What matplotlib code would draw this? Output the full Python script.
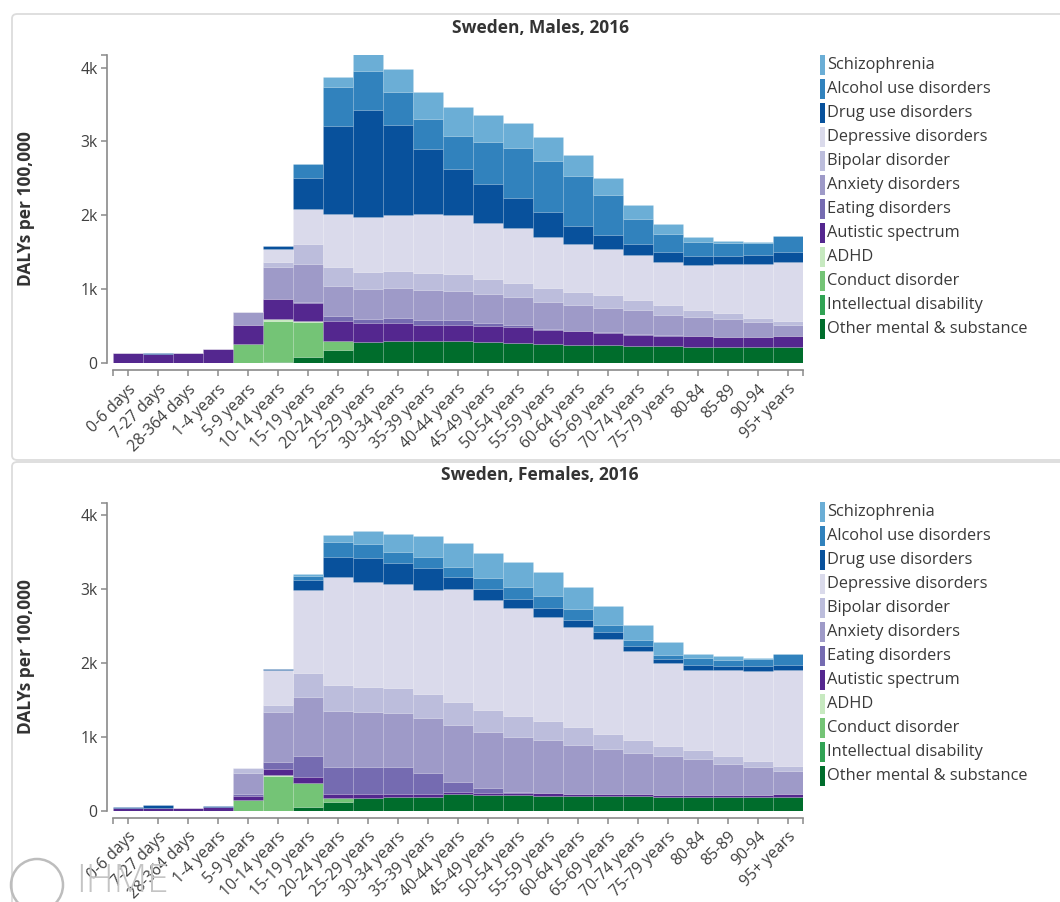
import numpy as np
import matplotlib
matplotlib.use('Agg')
import matplotlib.pyplot as plt
from matplotlib.patches import FancyBboxPatch, Rectangle, Circle


ages = ['0-6 days', '7-27 days', '28-364 days', '1-4 years', '5-9 years', '10-14 years',
        '15-19 years', '20-24 years', '25-29 years', '30-34 years', '35-39 years',
        '40-44 years', '45-49 years', '50-54 years', '55-59 years', '60-64 years',
        '65-69 years', '70-74 years', '75-79 years', '80-84', '85-89', '90-94', '95+ years']

# legend order (top to bottom) = stack order reversed
causes = ['Schizophrenia', 'Alcohol use disorders', 'Drug use disorders', 'Depressive disorders',
          'Bipolar disorder', 'Anxiety disorders', 'Eating disorders', 'Autistic spectrum',
          'ADHD', 'Conduct disorder', 'Intellectual disability', 'Other mental & substance']
cause_colors = ['#6baed6', '#3182bd', '#08519c', '#dadaeb', '#bcbddc', '#9e9ac8', '#756bb1',
                '#54278f', '#c7e9c0', '#74c476', '#31a354', '#006d2c']

# Males, DALYs per 100,000
m_schizo = [0, 0, 0, 0, 0, 0, 0, 136, 235, 317, 362, 385, 371, 339, 326, 281, 235, 190, 131, 68, 32, 18, 0]
m_alcohol = [0, 0, 0, 0, 0, 5, 200, 520, 525, 443, 407, 452, 566, 679, 688, 679, 543, 330, 240, 190, 172, 163, 217]
m_drug = [5, 5, 5, 0, 0, 30, 420, 1199, 1448, 1222, 882, 624, 520, 416, 330, 240, 190, 158, 136, 118, 113, 122, 145]
m_depress = [0, 0, 0, 0, 0, 180, 475, 715, 742, 756, 792, 801, 769, 738, 692, 656, 624, 611, 584, 606, 665, 724, 792]
m_bipolar = [0, 0, 0, 0, 0, 68, 258, 258, 231, 226, 226, 226, 204, 195, 190, 181, 172, 136, 140, 90, 81, 59, 59]
m_anxiety = [0, 0, 0, 0, 172, 430, 520, 407, 407, 407, 407, 385, 385, 380, 362, 339, 326, 317, 271, 262, 235, 204, 145]
m_eating = [0, 0, 0, 0, 0, 10, 15, 68, 54, 68, 68, 68, 45, 20, 15, 10, 10, 10, 5, 5, 5, 5, 5]
m_autistic = [136, 127, 136, 190, 258, 270, 250, 262, 262, 249, 226, 226, 217, 217, 190, 181, 167, 149, 145, 145, 140, 131, 145]
m_adhd = [0, 0, 0, 0, 0, 15, 10, 0, 0, 0, 0, 0, 0, 0, 0, 0, 0, 0, 0, 0, 0, 0, 0]
m_conduct = [0, 0, 0, 0, 262, 555, 475, 122, 0, 0, 0, 0, 0, 0, 0, 0, 0, 0, 0, 0, 0, 0, 0]
m_intel = [0, 0, 0, 0, 0, 0, 0, 0, 0, 0, 0, 0, 0, 0, 0, 0, 0, 0, 0, 0, 0, 0, 0]
m_other = [0, 0, 0, 0, 0, 20, 77, 181, 280, 294, 294, 294, 281, 271, 262, 249, 240, 235, 226, 217, 213, 217, 217]

# Females, DALYs per 100,000
f_schizo = [0, 0, 0, 0, 0, 0, 27, 90, 180, 239, 280, 325, 334, 347, 325, 298, 257, 212, 167, 54, 45, 14, 0]
f_alcohol = [0, 0, 0, 0, 0, 0, 63, 203, 185, 149, 144, 135, 162, 158, 158, 144, 104, 72, 59, 90, 81, 90, 149]
f_drug = [15, 50, 0, 8, 0, 18, 126, 280, 325, 289, 307, 171, 144, 126, 122, 99, 90, 77, 54, 77, 63, 77, 77]
f_depress = [0, 0, 0, 0, 0, 478, 1128, 1457, 1430, 1412, 1407, 1520, 1488, 1452, 1412, 1353, 1281, 1195, 1119, 1083, 1164, 1218, 1290]
f_bipolar = [0, 0, 0, 0, 68, 90, 325, 347, 329, 329, 329, 316, 293, 293, 257, 239, 207, 180, 144, 117, 99, 77, 77]
f_anxiety = [0, 0, 0, 0, 280, 677, 794, 758, 744, 731, 744, 767, 767, 735, 713, 663, 609, 555, 519, 483, 419, 374, 307]
f_eating = [0, 0, 0, 0, 30, 99, 289, 370, 370, 370, 280, 135, 59, 15, 10, 5, 5, 5, 5, 5, 5, 5, 5]
f_autistic = [40, 30, 32, 55, 50, 81, 81, 59, 59, 45, 45, 32, 32, 32, 32, 27, 23, 23, 23, 23, 23, 23, 32]
f_adhd = [0, 0, 0, 0, 0, 10, 5, 0, 0, 0, 0, 0, 0, 0, 0, 0, 0, 0, 0, 0, 0, 0, 0]
f_conduct = [0, 0, 0, 0, 144, 470, 325, 54, 0, 0, 0, 0, 0, 0, 0, 0, 0, 0, 0, 0, 0, 0, 0]
f_intel = [0, 0, 0, 0, 0, 0, 0, 0, 0, 0, 0, 0, 0, 0, 0, 0, 0, 0, 0, 0, 0, 0, 0]
f_other = [0, 0, 0, 0, 0, 0, 45, 113, 167, 180, 180, 226, 212, 212, 203, 198, 198, 198, 190, 190, 190, 190, 190]

males = [m_schizo, m_alcohol, m_drug, m_depress, m_bipolar, m_anxiety, m_eating,
         m_autistic, m_adhd, m_conduct, m_intel, m_other]
females = [f_schizo, f_alcohol, f_drug, f_depress, f_bipolar, f_anxiety, f_eating,
           f_autistic, f_adhd, f_conduct, f_intel, f_other]

plt.rcParams['font.family'] = ['Open Sans', 'DejaVu Sans']

W, H = 1060, 902
fig = plt.figure(figsize=(W / 100, H / 100), dpi=100)


def fx(x):
    return x / W


def fy(y):
    return 1 - y / H


# panel frames
for top, bot in [(14, 460), (462, 940)]:
    fig.patches.append(FancyBboxPatch((fx(12), fy(bot)), fx(1080) - fx(12), fy(top) - fy(bot),
                                      boxstyle='round,pad=0,rounding_size=0.005',
                                      transform=fig.transFigure, fill=False,
                                      edgecolor='#dcdcdc', linewidth=1.3))

AX_L, AX_R = 112.7, 803


def draw_panel(data, title, y0, ytop, title_y, leg_y):
    ax = fig.add_axes([fx(AX_L), fy(y0), fx(AX_R) - fx(AX_L), fy(ytop) - fy(y0)])
    x = np.arange(len(ages))
    bottom = np.zeros(len(ages))
    for vals, c in zip(data[::-1], cause_colors[::-1]):
        vals = np.array(vals, dtype=float)
        ax.bar(x, vals, width=1.0, bottom=bottom, color=c, edgecolor=(1, 1, 1, 0.12), linewidth=0.5)
        bottom += vals
    ax.set_xlim(-0.5, 22.5)
    ax.set_ylim(0, 4170)
    for s in ['top', 'right']:
        ax.spines[s].set_visible(False)
    ax.spines['left'].set_position(('outward', 4.3))
    ax.spines['bottom'].set_position(('outward', 5))
    for s in ['left', 'bottom']:
        ax.spines[s].set_color('#8a8a8a')
        ax.spines[s].set_linewidth(1.2)
    ax.set_yticks([0, 1000, 2000, 3000, 4000])
    ax.set_yticklabels(['0', '1k', '2k', '3k', '4k'])
    ax.set_yticks([4170], minor=True)
    ax.set_xticks(x)
    ax.set_xticklabels(ages, rotation=45, ha='right', va='top', rotation_mode='anchor')
    ax.set_xticks([-0.5, 22.5], minor=True)
    ax.tick_params(axis='both', which='both', color='#8a8a8a', width=1.1, labelcolor='#404040',
                   labelsize=11.3)
    ax.tick_params(axis='y', which='both', length=4.5, pad=2)
    ax.tick_params(axis='x', which='major', length=4, pad=4)
    ax.tick_params(axis='x', which='minor', length=4.5)
    ax.set_facecolor('none')
    fig.text(fx(26), fy((y0 + ytop) / 2), 'DALYs per 100,000', rotation=90, ha='center',
             va='center', fontsize=12.5, fontweight='bold', color='#333333')
    fig.text(fx(540), fy(title_y), title, ha='center', va='center', fontsize=12.5,
             fontweight='bold', color='#333333')
    # legend: thin colour bars with labels
    for i, (name, c) in enumerate(zip(causes, cause_colors)):
        yc = leg_y + i * 24
        fig.patches.append(Rectangle((fx(820), fy(yc + 10)), fx(5), fy(yc - 10) - fy(yc + 10),
                                     transform=fig.transFigure, facecolor=c, edgecolor='none'))
        fig.text(fx(827), fy(yc), name, ha='left', va='center', fontsize=11.8, color='#3a3a3a')
    return ax


draw_panel(males, 'Sweden, Males, 2016', 363, 55, 28, 65)
draw_panel(females, 'Sweden, Females, 2016', 810.7, 502.7, 475, 512)

# IHME mark in the corner
fig.patches.append(Circle((0.37, (H - 885) / 100), 0.26, transform=fig.dpi_scale_trans, fill=False,
                          edgecolor='#bdbdbd', linewidth=1.8))
fig.text(fx(76), fy(901), 'IHME', ha='left', va='bottom', fontsize=28, color='#c4c4c4',
         fontweight='light')

fig.savefig('out.png', dpi=100)
